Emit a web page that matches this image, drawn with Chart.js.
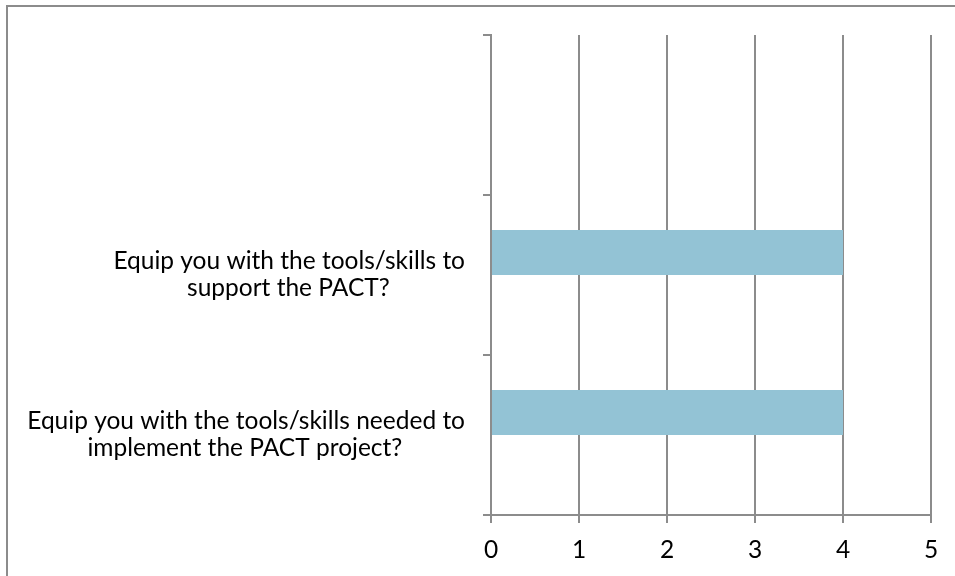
<!DOCTYPE html>
<html>
<head>
<meta charset="utf-8">
<script src="https://cdn.jsdelivr.net/npm/chart.js@4"></script>
<style>
  html, body { margin: 0; padding: 0; background: #fff; }
  #wrap { position: relative; width: 955px; height: 576px; overflow: hidden; }
  #frame { position: absolute; left: 6px; top: 5px; width: 1000px; height: 600px;
           border-left: 2px solid #8c8c8c; border-top: 2px solid #8c8c8c; box-sizing: border-box; }
  #c { position: absolute; left: 0; top: 0; }
</style>
</head>
<body>
<div id="wrap">
  <div id="frame"></div>
  <canvas id="c" width="955" height="576"></canvas>
</div>
<script>
// ---- data ----
const categories = [
  "",
  ["Equip you with the tools/skills to", "support the PACT?"],
  ["Equip you with the tools/skills needed to", "implement the PACT project?"]
];
const seriesA = [null, 4, 4];
const seriesB = [null, null, null];
const xTickValues = [0, 1, 2, 3, 4, 5];

const FONT_FAMILY = "Lato, 'Open Sans', sans-serif";
const FONT_SIZE = 24.5;
const GRID = '#8c8c8c';

// centre shorter lines within the widest line of a label (labels are right-aligned)
const mctx = document.createElement('canvas').getContext('2d');
mctx.font = FONT_SIZE + 'px ' + FONT_FAMILY;
function centreLines(lines) {
  if (!Array.isArray(lines)) return lines;
  const widths = lines.map(l => mctx.measureText(l).width);
  const maxW = Math.max(...widths);
  const sp = mctx.measureText(' ').width;
  return lines.map((l, i) => {
    const n = Math.round((maxW - widths[i]) / 2 / sp);
    return n > 0 ? l + ' '.repeat(n) : l;
  });
}

const ctx = document.getElementById('c').getContext('2d');
new Chart(ctx, {
  type: 'bar',
  data: {
    labels: categories,
    datasets: [
      { data: seriesA, backgroundColor: '#93c3d5', borderWidth: 0,
        categoryPercentage: 0.5625, barPercentage: 1 },
      { data: seriesB, backgroundColor: '#e0a060', borderWidth: 0,
        categoryPercentage: 0.5625, barPercentage: 1 }
    ]
  },
  options: {
    indexAxis: 'y',
    responsive: false,
    animation: false,
    devicePixelRatio: 1,
    layout: { padding: { top: 35, right: 24, left: 0, bottom: 0 } },
    plugins: { legend: { display: false }, tooltip: { enabled: false }, title: { display: false } },
    scales: {
      x: {
        type: 'linear',
        min: 0, max: 5,
        afterBuildTicks: (s) => { s.ticks = xTickValues.map(v => ({ value: v })); },
        ticks: { color: '#000', font: { family: FONT_FAMILY, size: FONT_SIZE }, padding: 12 },
        grid: { color: GRID, lineWidth: 2, tickLength: 8, drawTicks: true },
        border: { display: true, color: GRID, width: 2 },
        afterFit: (s) => { s.height = 61; s.paddingLeft = 0; s.paddingRight = 0; }
      },
      y: {
        type: 'category',
        offset: true,
        ticks: {
          color: '#000',
          font: { family: FONT_FAMILY, size: FONT_SIZE, lineHeight: 1.1 },
          padding: 18,
          callback: function (v, i) { return centreLines(categories[i]); }
        },
        grid: { display: true, drawOnChartArea: false, color: GRID, lineWidth: 2, tickLength: 8, offset: true },
        border: { display: true, color: GRID, width: 2 },
        afterFit: (s) => { s.width = 491; s.paddingTop = 0; s.paddingBottom = 0; }
      }
    }
  }
});
</script>
</body>
</html>
